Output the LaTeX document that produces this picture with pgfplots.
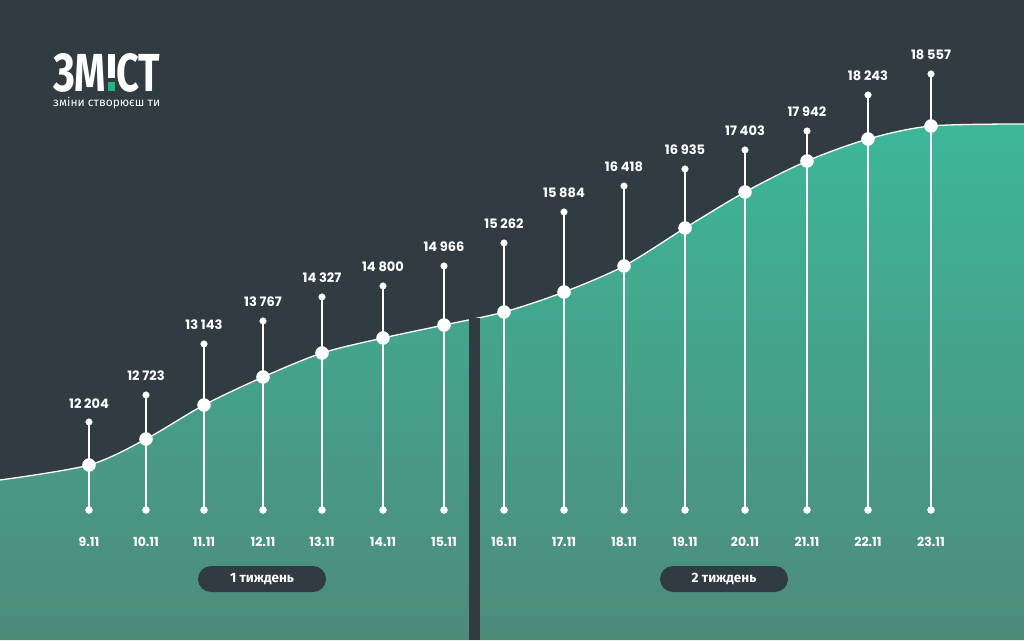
\documentclass[border=0pt]{standalone}
\usepackage{pgfplots}
\pgfplotsset{compat=1.18}
\usepackage{pgfplotstable}
\usepackage{fontspec}
\setmainfont{Poppins}
\newfontfamily\cyr{Fira Sans}
\definecolor{bg}{RGB}{48,59,66}
\definecolor{gtop}{RGB}{61,182,153}
\definecolor{gbot}{RGB}{78,139,123}
\definecolor{lgreen}{RGB}{34,181,125}

% curve through the day points (x = horizontal position, y = height of the curve)
\pgfplotstableread{
x y
0 160
89 175
146 201
204 235
263 263
322 287
383 302
444 315
504 328
564 348
624 374
685 412
745 448
807 479
868 501
931 514
1024 516
}\curvedata

% x: position, pos: curve height, top: label pin height, val: value, date
\pgfplotstableread{
x pos top val date
89 175 218 12204 9.11
146 201 245 12723 10.11
204 235 296 13143 11.11
263 263 319 13767 12.11
322 287 343 14327 13.11
383 302 354 14800 14.11
444 315 374 14966 15.11
504 328 397 15262 16.11
564 348 428 15884 17.11
624 374 454 16418 18.11
685 412 471 16935 19.11
745 448 490 17403 20.11
807 479 509 17942 21.11
868 501 545 18243 22.11
931 514 566 18557 23.11
}\data

\begin{document}
\begin{tikzpicture}
\fill[bg] (0,0) rectangle (1024pt,640pt);
\begin{axis}[at={(0,0)}, anchor=south west,
  width=1024pt, height=640pt, scale only axis,
  xmin=0, xmax=1024, ymin=0, ymax=640,
  hide axis, clip=true]

% green area
\addplot[draw=none, top color=gtop, bottom color=gbot, smooth] table[x=x,y=y] {\curvedata} \closedcycle;
% curve line
\addplot[white, line width=1.3pt, smooth] table[x=x,y=y] {\curvedata};

% separator bar
\fill[bg] (axis cs:469,0) rectangle (axis cs:480,322);

% vertical pins
\addplot[only marks, mark=none,
  error bars/.cd, y dir=minus, y explicit, error mark=none,
  error bar style={white, line width=1.6pt}]
  table[x=x, y=top, y error minus expr=\thisrow{top}-130] {\data};

% big dots on curve
\addplot[only marks, mark=*, mark size=6.5pt, white] table[x=x,y=pos] {\data};

% top dots with values
\addplot[only marks, mark=*, mark size=3.3pt, white,
  point meta=explicit,
  nodes near coords={\pgfmathprintnumber[1000 sep={\ }, assume math mode=true]{\pgfplotspointmeta}},
  every node near coord/.append style={anchor=base, yshift=14pt, inner sep=0pt,
    font=\bfseries\fontsize{13}{13}\selectfont, text=white}]
  table[x=x, y=top, meta=val] {\data};

% bottom dots with dates
\addplot[only marks, mark=*, mark size=3.5pt, white,
  point meta=explicit symbolic,
  nodes near coords,
  every node near coord/.append style={anchor=base, yshift=-36pt, inner sep=0pt,
    font=\bfseries\fontsize{12.5}{12.5}\selectfont, text=white}]
  table[x=x, y expr=130, meta=date] {\data};

% week pills
\node[fill=bg, rounded corners=13pt, minimum width=128pt, minimum height=26pt, inner sep=0pt,
  text=white, font=\cyr\bfseries\fontsize{13.5}{13.5}\selectfont] at (axis cs:262,61) {1 тиждень};
\node[fill=bg, rounded corners=13pt, minimum width=128pt, minimum height=26pt, inner sep=0pt,
  text=white, font=\cyr\bfseries\fontsize{13.5}{13.5}\selectfont] at (axis cs:724,61) {2 тиждень};

% logo
\node[anchor=north west, inner sep=0pt, text=white] at (axis cs:53,587)
  {\resizebox{107pt}{38pt}{\cyr\bfseries\fontsize{40}{40}\selectfont ЗМ\kern0.04em\rlap{\rule[0.24em]{0.17em}{0.455em}}\textcolor{lgreen}{\rule{0.17em}{0.17em}}\kern0.04em СТ}};
\node[anchor=base west, inner sep=0pt, text=white] at (axis cs:53,533)
  {\resizebox{107pt}{!}{\cyr\fontsize{10}{10}\selectfont зміни створюєш ти}};
\end{axis}
\pgfresetboundingbox
\path (0,0) rectangle (1024pt,640pt);
\end{tikzpicture}
\end{document}
